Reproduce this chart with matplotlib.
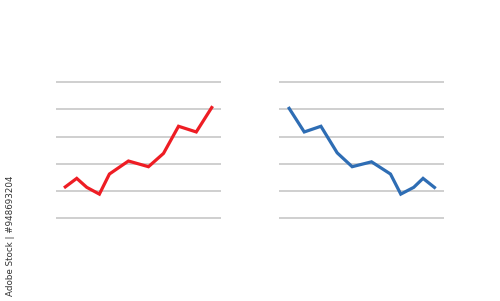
import matplotlib
matplotlib.use("Agg")
import matplotlib.pyplot as plt

grid_levels = [0, 1, 2, 3, 4, 5]

up_x = [8.3, 21.0, 31.0, 43.6, 53.6, 72.6, 92.6, 107.6, 122.6, 140.3, 156.6]
up_y = [1.11, 1.46, 1.13, 0.88, 1.62, 2.10, 1.89, 2.38, 3.38, 3.17, 4.12]

down_x = [9.3, 25.3, 42.0, 58.3, 73.3, 92.7, 111.7, 122.0, 135.0, 144.3, 157.0]
down_y = [4.09, 3.17, 3.38, 2.40, 1.89, 2.07, 1.62, 0.88, 1.13, 1.46, 1.09]

fig = plt.figure(figsize=(5.0, 3.01), dpi=100)
fig.patch.set_facecolor("white")

W, H = 500.0, 301.0
def make_ax(x0, x1, ytop, ybot):
    ax = fig.add_axes([x0 / W, 1 - ybot / H, (x1 - x0) / W, (ybot - ytop) / H])
    ax.set_xlim(0, 165)
    ax.set_ylim(0, 5)
    ax.axis("off")
    return ax

ax1 = make_ax(55.7, 221.0, 82.3, 218.0)
ax2 = make_ax(279.0, 443.7, 82.3, 218.0)

for ax, xs, ys, col in [(ax1, up_x, up_y, "#ee1d24"), (ax2, down_x, down_y, "#2e6db4")]:
    ax.hlines(grid_levels, 0, 165, colors="#cccccc", linewidth=1.3, clip_on=False, zorder=1)
    ax.plot(xs, ys, color=col, linewidth=2.3, solid_joinstyle="miter",
            solid_capstyle="butt", clip_on=False, zorder=3)

fig.text(11 / W, 1 - 236 / H, "Adobe Stock | #948693204", rotation=90,
         ha="center", va="center", fontsize=6.3, color="#333333",
         family="DejaVu Sans")

fig.savefig("out.png", dpi=100, facecolor="white")
